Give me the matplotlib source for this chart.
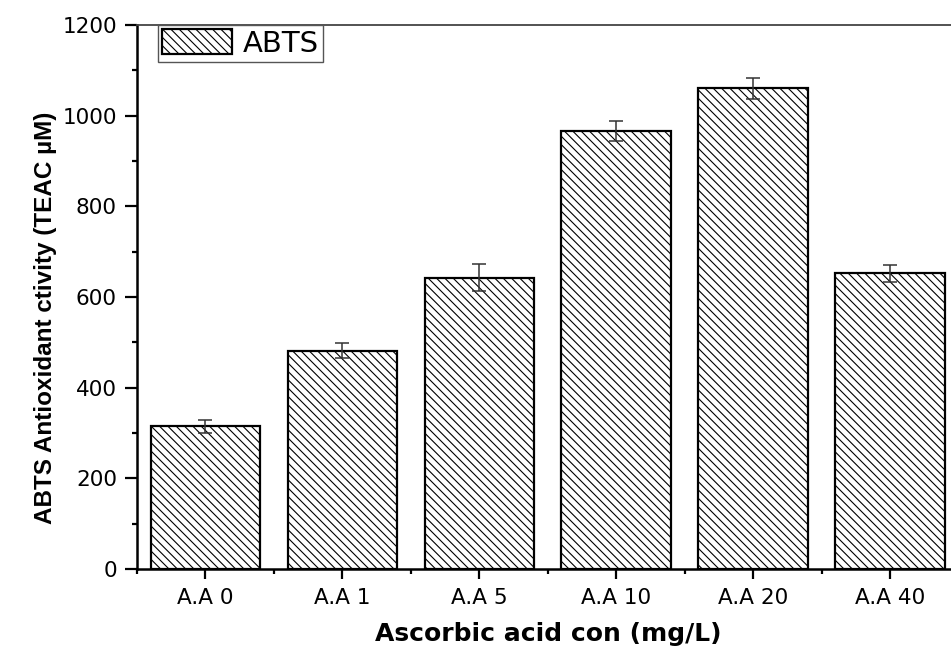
import numpy as np
import matplotlib.pyplot as plt
from matplotlib.ticker import MultipleLocator, FixedLocator

plt.rcParams['font.family'] = ['DejaVu Sans']
plt.rcParams['hatch.linewidth'] = 0.8

categories = ['A.A 0', 'A.A 1', 'A.A 5', 'A.A 10', 'A.A 20', 'A.A 40']
abts = [315, 482, 643, 967, 1060, 652]
abts_err = [14, 16, 29, 22, 24, 18]

x = np.arange(len(categories))

fig = plt.figure(figsize=(9.51, 6.5), dpi=100)
# axes run slightly past the right edge, so the right frame is cut off
ax = fig.add_axes([0.1441, 0.1246, 0.8638, 0.8369])

ax.bar(x, abts, width=0.8, color='white', edgecolor='black', linewidth=1.6,
       hatch='\\' * 4, label='ABTS', yerr=abts_err,
       error_kw=dict(ecolor='#333333', elinewidth=1.1, capsize=5, capthick=1.1))

ax.set_xlim(-0.5, len(categories) - 0.5)
ax.set_ylim(0, 1200)
ax.set_xticks(x)
ax.set_xticklabels(categories)
ax.xaxis.set_minor_locator(FixedLocator(np.arange(-0.5, len(categories), 1.0)))
ax.yaxis.set_major_locator(MultipleLocator(200))
ax.yaxis.set_minor_locator(MultipleLocator(100))

ax.tick_params(axis='both', which='major', direction='out', width=1.6,
               labelsize=15.5, pad=6)
ax.tick_params(axis='y', which='major', length=8.5)
ax.tick_params(axis='x', which='major', length=7.5)
ax.tick_params(axis='both', which='minor', direction='out', width=1.6, length=3.6)

for side in ['left', 'bottom']:
    ax.spines[side].set_linewidth(1.8)
ax.spines['top'].set_linewidth(1.3)
ax.spines['top'].set_color('#444444')
ax.spines['right'].set_visible(False)

ax.set_xlabel('Ascorbic acid con (mg/L)', fontsize=18, fontweight='bold',
              labelpad=10)
ax.set_ylabel('ABTS Antioxidant ctivity (TEAC µM)', fontsize=17.5,
              fontweight='bold',
              family=['Liberation Sans Narrow', 'Liberation Sans'])
ax.yaxis.set_label_coords(-0.098, 0.461)

leg = ax.legend(loc='upper left', bbox_to_anchor=(21 / 821.5, 1.0),
                borderaxespad=0, fontsize=21, frameon=True, fancybox=False,
                edgecolor='#555555', framealpha=1, handlelength=2.4,
                handleheight=0.9, handletextpad=0.35, borderpad=0.15)
leg.get_frame().set_linewidth(1.0)

fig.savefig('out.png', dpi=100)
